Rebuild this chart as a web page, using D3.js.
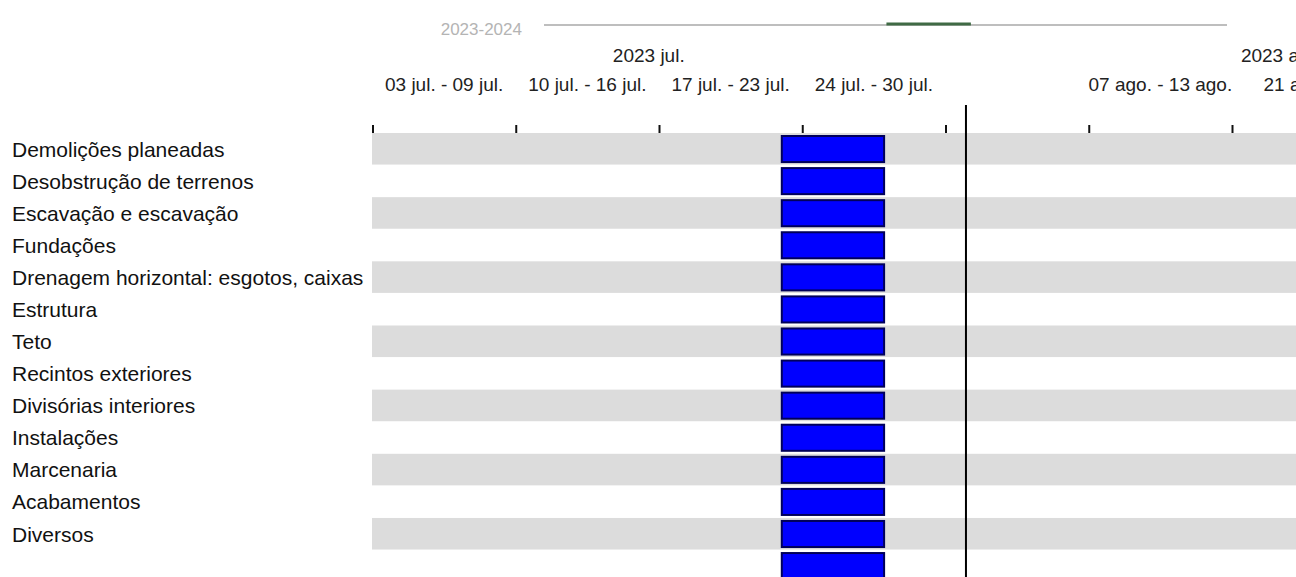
<!DOCTYPE html>
<html>
<head>
<meta charset="utf-8">
<script src="https://cdn.jsdelivr.net/npm/d3@7"></script>
<style>
  html, body { margin: 0; padding: 0; background: #ffffff; overflow: hidden; }
  svg { display: block; font-family: "Liberation Sans", Arial, sans-serif; }
</style>
</head>
<body>
<svg id="gantt" width="1296" height="577"></svg>
<script>
// Tasks of the building schedule (the last row has no name)
const tasks = [
  "Demolições planeadas",
  "Desobstrução de terrenos",
  "Escavação e escavação",
  "Fundações",
  "Drenagem horizontal: esgotos, caixas",
  "Estrutura",
  "Teto",
  "Recintos exteriores",
  "Divisórias interiores",
  "Instalações",
  "Marcenaria",
  "Acabamentos",
  "Diversos",
  ""
];
const taskStarts = [
  "2023-07-23", "2023-07-23", "2023-07-23", "2023-07-23", "2023-07-23",
  "2023-07-23", "2023-07-23", "2023-07-23", "2023-07-23", "2023-07-23",
  "2023-07-23", "2023-07-23", "2023-07-23", "2023-07-23"
];
const taskEnds = [
  "2023-07-28", "2023-07-28", "2023-07-28", "2023-07-28", "2023-07-28",
  "2023-07-28", "2023-07-28", "2023-07-28", "2023-07-28", "2023-07-28",
  "2023-07-28", "2023-07-28", "2023-07-28", "2023-07-28"
];

// Time axis labels
const weekStarts = ["2023-07-03", "2023-07-10", "2023-07-17", "2023-07-24", "2023-08-07"];
const weekLabels = ["03 jul. - 09 jul.", "10 jul. - 16 jul.", "17 jul. - 23 jul.", "24 jul. - 30 jul.", "07 ago. - 13 ago."];
const trailingWeekStart = "2023-08-15T13:00";
const trailingWeekLabel = "21 ago. - 27 ago.";
const monthStarts = ["2023-07-01", "2023-08-01"];
const monthLabels = ["2023 jul.", "2023 ago."];
const overviewLabel = "2023-2024";
const overviewDomain = ["2023-01-01", "2024-01-01"];
const today = "2023-08-01";

const parse = s => new Date(s.length > 10 ? s : s + "T00:00");
const W = 1296, H = 577;
const svg = d3.select("#gantt");

// Main time scale: one week ≈ 143 px
const x = d3.scaleTime()
  .domain([parse("2023-07-03"), parse("2023-08-14")])
  .range([372.5, 1232]);

const rowH = 32.08;
const y = d3.scaleBand()
  .domain(d3.range(tasks.length))
  .range([133, 133 + rowH * tasks.length])
  .paddingInner(0).paddingOuter(0);

// Alternating row stripes
svg.append("g").selectAll("rect")
  .data(d3.range(tasks.length).filter(i => i % 2 === 0))
  .join("rect")
  .attr("x", x.range()[0] - 0.5)
  .attr("y", i => y(i))
  .attr("width", W - x.range()[0] + 0.5)
  .attr("height", y.bandwidth() - 0.5)
  .attr("fill", "#dcdcdc");

// Row labels
svg.append("g").selectAll("text")
  .data(tasks)
  .join("text")
  .attr("x", 12)
  .attr("y", (d, i) => y(i) + y.bandwidth() / 2 + 7.5)
  .attr("font-size", 21)
  .attr("fill", "#111")
  .text(d => d);

// Week tick marks along the top
const tickAxis = d3.axisTop(x)
  .ticks(d3.timeMonday.every(1))
  .tickSize(8)
  .tickFormat("");
const axisG = svg.append("g")
  .attr("transform", "translate(0,133)")
  .call(tickAxis);
axisG.select(".domain").remove();
axisG.selectAll(".tick line").attr("stroke", "#111").attr("stroke-width", 2);

// Week labels, centred on each week
svg.append("g").selectAll("text")
  .data(weekStarts)
  .join("text")
  .attr("x", d => (x(parse(d)) + x(d3.timeDay.offset(parse(d), 7))) / 2)
  .attr("y", 91)
  .attr("text-anchor", "middle")
  .attr("font-size", 19)
  .attr("fill", "#222")
  .text((d, i) => weekLabels[i]);

svg.append("text")
  .attr("x", x(parse(trailingWeekStart)))
  .attr("y", 91)
  .attr("font-size", 19)
  .attr("fill", "#222")
  .text(trailingWeekLabel);

// Month labels, centred on each month
svg.append("g").selectAll("text")
  .data(monthStarts)
  .join("text")
  .attr("x", d => (x(parse(d)) + x(d3.timeMonth.offset(parse(d), 1))) / 2)
  .attr("y", 62)
  .attr("text-anchor", "middle")
  .attr("font-size", 19)
  .attr("fill", "#222")
  .text((d, i) => monthLabels[i]);

// Overview strip: full year with the visible window highlighted
const ov = d3.scaleTime()
  .domain(overviewDomain.map(parse))
  .range([544, 1227]);
svg.append("text")
  .attr("x", 522)
  .attr("y", 35)
  .attr("text-anchor", "end")
  .attr("font-size", 17)
  .attr("fill", "#b4b4b4")
  .text(overviewLabel);
svg.append("line")
  .attr("x1", ov.range()[0]).attr("x2", ov.range()[1])
  .attr("y1", 25).attr("y2", 25)
  .attr("stroke", "#a8a8a8").attr("stroke-width", 1.5);
const visible = [x.invert(x.range()[0]), x.invert(W)];
svg.append("line")
  .attr("x1", ov(visible[0])).attr("x2", ov(visible[1]))
  .attr("y1", 24).attr("y2", 24)
  .attr("stroke", "#3f6a44").attr("stroke-width", 3);

// Task bars
svg.append("g").selectAll("rect")
  .data(tasks)
  .join("rect")
  .attr("x", (d, i) => x(parse(taskStarts[i])))
  .attr("y", (d, i) => y(i) + 3)
  .attr("width", (d, i) => x(parse(taskEnds[i])) - x(parse(taskStarts[i])))
  .attr("height", y.bandwidth() - 6)
  .attr("fill", "#0000ff")
  .attr("stroke", "#00005a")
  .attr("stroke-width", 2);

// Current-date marker
svg.append("line")
  .attr("x1", x(parse(today))).attr("x2", x(parse(today)))
  .attr("y1", 105).attr("y2", H)
  .attr("stroke", "#000").attr("stroke-width", 2);
</script>
</body>
</html>
